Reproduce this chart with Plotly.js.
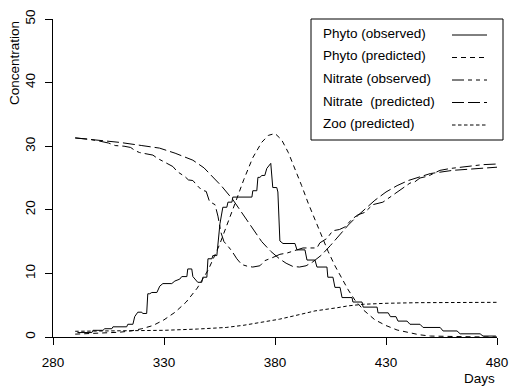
<!DOCTYPE html>
<html>
<head>
<meta charset="utf-8">
<script src="https://cdn.plot.ly/plotly-3.0.1.min.js"></script>
<style>html,body{margin:0;padding:0;background:#fff;}#chart{width:509px;height:387px;}</style>
</head>
<body>
<div id="chart"></div>
<script>
// ---- data ----
var xTicks = [280, 330, 380, 430, 480];
var yTicks = [0, 10, 20, 30, 40, 50];
var seriesNames = ["Phyto (observed)", "Phyto (predicted)", "Nitrate (observed)", "Nitrate\u00a0 (predicted)", "Zoo (predicted)"];

var phytoObsDays = [291,297.5,298,302.5,303.3,306.5,307,313.2,313.7,316,316.8,318.2,320,320.4,322.2,322.7,323.6,324.5,326.8,328.1,329.5,333.5,334.9,337.1,338,340.3,340.7,342.5,343,344.8,345.2,347,347.5,349.3,349.8,351.6,352,353.8,354.3,355.2,356.5,358.3,358.8,360.6,361,369.6,370,371.8,372.3,373.2,374.1,375.4,376.3,377.7,378.1,379,380.8,381.3,382.2,383.6,389,389.9,393.5,394.4,398,398.9,403.4,403.8,406.1,407,409.3,410.2,414.7,415.1,419.2,419.7,426,426.4,431,432,434.5,435.4,439.5,440.8,445.3,446.7,454.4,455.7,462,463.4,472.4,473.7,479.5];
var phytoObsVals = [0.7,0.7,1.05,1.05,1.3,1.3,1.6,1.6,2.0,2.0,3.2,3.9,3.9,3.7,3.7,6.8,6.8,7.0,7.0,8.0,8.4,8.4,8.8,9.1,9.5,9.5,10.7,10.7,9.5,8.8,8.6,8.6,9.4,9.4,12.3,12.3,12.8,12.8,15.0,17.8,20.4,20.4,21.2,21.2,22.0,22.0,23.0,23.0,25.1,25.1,25.4,25.4,26.5,27.0,27.3,23.5,23.5,22.8,15.1,14.7,14.7,13.7,13.7,12.1,12.1,11.0,11.0,9.4,9.4,7.8,7.8,6.2,6.2,5.5,5.5,4.7,4.7,3.8,3.8,3.2,3.2,2.5,2.5,2.0,2.0,1.5,1.5,0.95,0.95,0.5,0.5,0.15,0.15];

var phytoPredDays = [290,300,310,315,320,325,330,335,340,345,350,355,358,362,366,370,374,377,380,383,386,389,392,395,398,401,404,407,410,413,416,420,425,430,435,440,445,450,460,470,480];
var phytoPredVals = [0.45,0.55,0.75,0.95,1.3,1.8,2.7,3.9,5.5,7.7,10.6,14.5,17.2,21.0,24.8,28.2,30.6,31.7,32.0,31.0,29.0,26.5,23.8,21.0,18.5,15.8,13.4,11.2,9.2,7.4,5.8,4.2,2.7,1.8,1.1,0.7,0.35,0.15,0.05,0.02,0.0];

var nitObsDays = [290,296,301,305,308,312,315,317,319,322,325,327,330,332,334,336,338,339.5,341,343,345,347,349,350.5,353,354.3,355.6,357,359,360.6,362.8,365,367.8,370,373.2,375.4,379,382.2,385.4,389,392.6,398.9,400.2,403.4,406,409,411.5,414.6,417.3,420.5,424,428.6,431.8,434,436.3,438,440.8,443,445.3,449,452,454.3,459,465.6,470,473.7,480];
var nitObsVals = [31.3,31.1,30.8,30.5,30.1,30.0,29.8,29.3,29.0,28.8,28.6,28.1,27.5,27.2,26.8,26.0,25.6,25.2,24.7,24.6,23.8,23.1,22.9,21.3,20.8,19.0,16.5,15.0,14.2,13.5,12.3,11.4,11.1,11.0,11.2,12.0,12.5,13.0,13.2,13.6,14.0,14.0,14.8,15.5,16.7,16.9,17.3,18.5,19.2,19.6,20.8,21.2,22.0,22.5,23.2,23.5,24.2,24.4,25.0,25.3,25.8,26.2,26.5,26.8,26.9,27.1,27.2];

var nitPredDays = [290,300,310,320,328,335,343,348,352,356,361,365,370,374,378,382,385,388,391,394,397,401,405,409,413,417,421,425,430,435,440,445,450,460,470,480];
var nitPredVals = [31.3,31.0,30.6,30.1,29.7,28.9,27.8,26.6,25.2,23.7,21.6,19.6,17.0,15.0,13.5,12.3,11.6,11.1,11.0,11.2,11.8,12.9,14.4,16.0,17.6,19.0,20.3,21.5,22.8,23.8,24.6,25.2,25.7,26.2,26.5,26.7];

var zooDays = [290,310,330,345,358,366,373,382,392,398,408,413,420,430,445,460,480];
var zooVals = [0.9,0.95,1.05,1.25,1.5,1.85,2.25,2.8,3.6,4.1,4.6,4.9,5.15,5.3,5.4,5.45,5.45];

// ---- styles ----
var FONT = "Liberation Sans, Arial, Helvetica, sans-serif";
var FS = 13.5;
var dashes = ["solid", "5px,4px", "12px,4px,4px,4px", "12px,4px", "3.5px,2.5px"];

var series = [
  [phytoObsDays, phytoObsVals],
  [phytoPredDays, phytoPredVals],
  [nitObsDays, nitObsVals],
  [nitPredDays, nitPredVals],
  [zooDays, zooVals]
];
var traces = series.map(function (s, i) {
  return {
    x: s[0], y: s[1], type: "scatter", mode: "lines",
    name: seriesNames[i], showlegend: false, hoverinfo: "skip",
    line: {color: "#000", width: 1, dash: dashes[i]}
  };
});

// plot area in pixels: x 53..497, y 19..337
var L = 53, R = 12, T = 19, B = 50;
var W = 509, H = 387;
var pw = W - L - R, ph = H - T - B;
function px2x(p) { return (p - L) / pw; }
function px2y(p) { return (H - B - p) / ph; }

var shapes = [{
  type: "rect", xref: "paper", yref: "paper",
  x0: px2x(311), x1: px2x(503), y0: px2y(140), y1: px2y(19),
  line: {color: "#000", width: 1}, fillcolor: "rgba(0,0,0,0)"
}];
var annotations = [];
var rowY = [33.5, 56, 78.5, 101, 123.5];
var legendDash = ["solid", "5px,4px", "12px,4px,4px,4px,4px,4px", "12px,4px", "3.5px,2.5px"];
seriesNames.forEach(function (n, i) {
  annotations.push({
    text: n, xref: "paper", yref: "paper", x: px2x(321), y: px2y(rowY[i]),
    xanchor: "left", yanchor: "middle", showarrow: false,
    font: {family: FONT, size: FS, color: "#000"}
  });
  shapes.push({
    type: "line", xref: "paper", yref: "paper",
    x0: px2x(452), x1: px2x(487), y0: px2y(rowY[i] + 1.5), y1: px2y(rowY[i] + 1.5),
    line: {color: "#000", width: 1, dash: legendDash[i]}
  });
});
annotations.push({
  text: "Concentration", xref: "paper", yref: "paper", x: 0, y: 1,
  xshift: 14 - L, xanchor: "center", yanchor: "top", textangle: -90, showarrow: false,
  font: {family: FONT, size: FS, color: "#000"}
});
annotations.push({
  text: "Days", xref: "paper", yref: "paper", x: 1, y: 0,
  yshift: -(378 - (H - B)), xanchor: "right", yanchor: "middle", showarrow: false,
  font: {family: FONT, size: FS, color: "#000"}
});

var layout = {
  width: W, height: H,
  margin: {l: L, r: R, t: T, b: B, pad: 0},
  paper_bgcolor: "#fff", plot_bgcolor: "#fff",
  font: {family: FONT, size: FS, color: "#000"},
  showlegend: false,
  xaxis: {
    range: [280, 480], tickmode: "array", tickvals: xTicks, ticktext: xTicks.map(String),
    showgrid: false, zeroline: false, showline: true, linecolor: "#000", linewidth: 1,
    ticks: "outside", ticklen: 7, tickwidth: 1, tickcolor: "#000", ticklabelstandoff: 6,
    tickfont: {family: FONT, size: FS, color: "#000"}
  },
  yaxis: {
    range: [0, 50], tickmode: "array", tickvals: yTicks, ticktext: yTicks.map(String),
    showgrid: false, zeroline: false, showline: true, linecolor: "#000", linewidth: 1,
    ticks: "outside", ticklen: 7, tickwidth: 1, tickcolor: "#000", tickangle: -90,
    ticklabelstandoff: 5,
    tickfont: {family: FONT, size: FS, color: "#000"}
  },
  shapes: shapes,
  annotations: annotations
};

Plotly.newPlot("chart", traces, layout, {displayModeBar: false, staticPlot: true});
</script>
</body>
</html>
